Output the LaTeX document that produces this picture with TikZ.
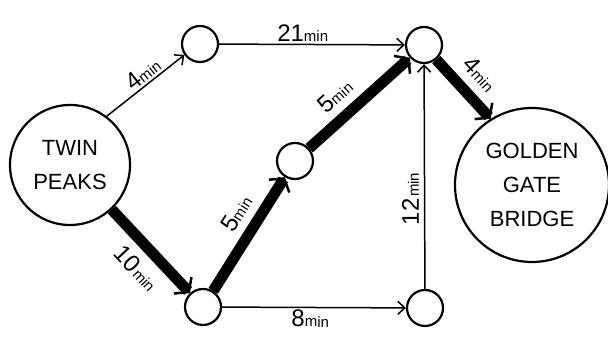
\documentclass[tikz,border=0pt]{standalone}
\usepackage{fontspec}
\setmainfont{Liberation Sans}
\usetikzlibrary{arrows.meta}

\newcommand{\mins}[2][]{{\fontsize{24}{24}\selectfont #2}#1{\fontsize{15}{15}\selectfont min}}

\begin{document}
\begin{tikzpicture}[
  x=1pt, y=1pt,
  landmark/.style={draw, circle, line width=2.2pt, minimum size=120pt, inner sep=0pt, align=center, font=\fontsize{22}{34}\selectfont},
  junction/.style={draw, circle, line width=2.2pt, minimum size=36pt, inner sep=0pt},
  road/.style={line width=1.5pt, -{Straight Barb[length=7pt, width=13pt, line width=1.5pt]}},
  fast/.style={line width=11pt, -{Straight Barb[length=9pt, width=24pt, line width=2.5pt]}},
  time/.style={sloped, allow upside down, inner sep=2pt}
]

\useasboundingbox (0,0) rectangle (608,344);

\node[landmark] (peaks) at (70,179) {TWIN\\PEAKS};
\node[landmark, minimum size=154pt] (bridge) at (532,159) {GOLDEN\\GATE\\BRIDGE};

\node[junction] (top) at (200,300) {};
\node[junction] (mid) at (295,183) {};
\node[junction] (low) at (203,37) {};
\node[junction] (east) at (424,299) {};
\node[junction] (south) at (425,36) {};

% slow roads
\draw[road] (peaks.53) -- node[time, above, pos=0.55] {\mins{4}} (top.215);
\draw[road] (top) -- node[time, above, pos=0.45] {\mins{21}} (east);
\draw[road] (south) -- node[time, above=3pt, pos=0.4] {\mins[\,]{12}} (east);
\draw[road] (low) -- node[time, below, pos=0.48] {\mins{8}} (south);

% fastest route
\draw[fast] (peaks) -- node[time, below=6pt, pos=0.52] {\mins[\,]{10}} (low);
\draw[fast] (low) -- node[time, above=6pt, pos=0.58] {\mins{5}} (mid);
\draw[fast] (mid) -- node[time, above=6pt, pos=0.4] {\mins{5}} (east);
\draw[fast] (east.-50) -- node[time, above=7pt, pos=0.5] {\mins{4}} (bridge.122);

\end{tikzpicture}
\end{document}
